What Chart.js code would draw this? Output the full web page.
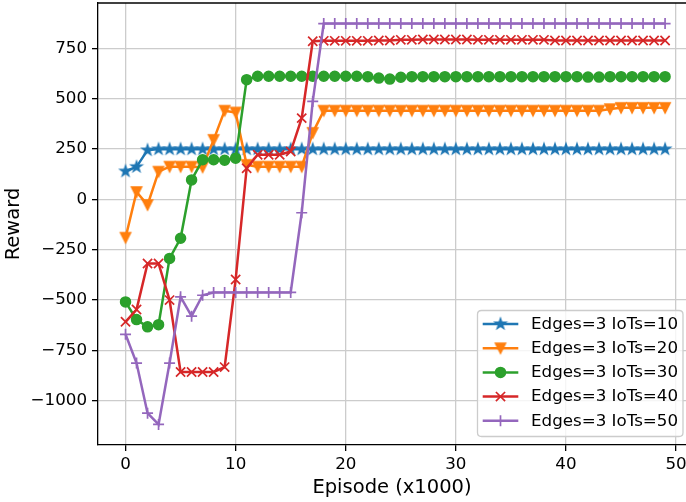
<!DOCTYPE html>
<html>
<head>
<meta charset="utf-8">
<script src="https://cdn.jsdelivr.net/npm/chart.js@4/dist/chart.umd.min.js"></script>
<style>
html,body{margin:0;padding:0;background:#fff;}
#wrap{width:686px;height:502px;position:relative;}
</style>
</head>
<body>
<div id="wrap"><canvas id="c" width="686" height="502"></canvas></div>
<script>
const episodes = [0,1,2,3,4,5,6,7,8,9,10,11,12,13,14,15,16,17,18,19,20,21,22,23,24,25,26,27,28,29,30,31,32,33,34,35,36,37,38,39,40,41,42,43,44,45,46,47,48,49];
const xTicks = [0,10,20,30,40,50];
const yTicks = [-1000,-750,-500,-250,0,250,500,750];
const labels = ['Edges=3 IoTs=10','Edges=3 IoTs=20','Edges=3 IoTs=30','Edges=3 IoTs=40','Edges=3 IoTs=50'];

const iot10 = [
  140,162,245,250,250,250,250,250,250,250,
  250,250,250,250,250,250,250,250,250,250,
  250,250,250,250,250,250,250,250,250,250,
  250,250,250,250,250,250,250,250,250,250,
  250,250,250,250,250,250,250,250,250,250];
const iot20 = [
  -190,37,-27,138,163,163,163,160,296,441,
  432,172,163,163,163,163,163,331,441,441,
  441,441,441,441,441,441,441,441,441,441,
  441,441,441,441,441,441,441,441,441,441,
  441,441,441,441,449,455,455,455,455,455];
const iot30 = [
  -509,-597,-633,-622,-293,-193,97,197,197,195,
  205,595,612,612,612,612,612,612,612,612,
  612,612,610,603,598,607,610,610,610,610,
  610,610,610,610,610,610,610,610,610,610,
  610,610,608,608,610,610,610,610,610,610];
const iot40 = [
  -608,-547,-318,-318,-500,-857,-857,-857,-857,-833,
  -398,155,222,222,222,238,404,786,788,788,
  788,788,788,790,790,793,793,795,795,795,
  795,795,793,793,793,793,793,793,793,790,
  790,790,790,790,790,790,790,790,790,790];
const iot50 = [
  -670,-813,-1062,-1118,-813,-484,-580,-476,-462,-462,
  -462,-462,-462,-462,-462,-462,-66,487,874,874,
  874,874,874,874,874,874,874,874,874,874,
  874,874,874,874,874,874,874,874,874,874,
  874,874,874,874,874,874,874,874,874,874];

const seriesValues = [iot10, iot20, iot30, iot40, iot50];
const colors = ['#1f77b4','#ff7f0e','#2ca02c','#d62728','#9467bd'];
const FONT = '"DejaVu Sans", sans-serif';

function makeMarker(kind, color) {
  const c = document.createElement('canvas');
  c.width = 16; c.height = 16;
  const g = c.getContext('2d');
  g.translate(8, 8);
  g.beginPath();
  if (kind === 'star') {
    for (let k = 0; k < 10; k++) {
      const r = (k % 2 === 0) ? 5.3 : 2.05;
      const a = -Math.PI / 2 + k * Math.PI / 5;
      g.lineTo(r * Math.cos(a), r * Math.sin(a));
    }
  } else {
    g.moveTo(0, 5); g.lineTo(-5, -5); g.lineTo(5, -5);
  }
  g.closePath();
  g.fillStyle = color; g.fill();
  g.strokeStyle = color; g.lineWidth = 1.6; g.lineJoin = 'miter'; g.stroke();
  return c;
}

const markerStyles = [
  {pointStyle: makeMarker('star', colors[0]), radius: 5, borderWidth: 1.6},
  {pointStyle: makeMarker('tri', colors[1]), radius: 5, borderWidth: 1.6},
  {pointStyle: 'circle', radius: 5, borderWidth: 1.5},
  {pointStyle: 'crossRot', radius: 6.5, borderWidth: 1.7},
  {pointStyle: 'cross', radius: 5.5, borderWidth: 1.7}
];

const datasets = seriesValues.map((vals, i) => ({
  label: labels[i],
  data: episodes.map((e, k) => ({x: e, y: vals[k]})),
  borderColor: colors[i],
  backgroundColor: colors[i],
  borderWidth: 2.5,
  tension: 0,
  fill: false,
  pointStyle: markerStyles[i].pointStyle,
  pointRadius: markerStyles[i].radius,
  pointHoverRadius: markerStyles[i].radius,
  pointBorderWidth: markerStyles[i].borderWidth,
  pointBorderColor: colors[i],
  pointBackgroundColor: colors[i],
  order: 4 - i
}));

function drawMarker(ctx, ms, color, x, y) {
  ctx.save();
  ctx.fillStyle = color; ctx.strokeStyle = color; ctx.lineWidth = ms.borderWidth;
  const st = ms.pointStyle;
  if (typeof st === 'object') {
    ctx.drawImage(st, x - st.width / 2, y - st.height / 2);
  } else if (st === 'circle') {
    ctx.beginPath(); ctx.arc(x, y, ms.radius, 0, Math.PI * 2); ctx.fill(); ctx.stroke();
  } else if (st === 'cross') {
    const r = ms.radius;
    ctx.beginPath(); ctx.moveTo(x - r, y); ctx.lineTo(x + r, y); ctx.moveTo(x, y - r); ctx.lineTo(x, y + r); ctx.stroke();
  } else if (st === 'crossRot') {
    const r = ms.radius * Math.SQRT1_2;
    ctx.beginPath(); ctx.moveTo(x - r, y - r); ctx.lineTo(x + r, y + r); ctx.moveTo(x - r, y + r); ctx.lineTo(x + r, y - r); ctx.stroke();
  }
  ctx.restore();
}

const decorPlugin = {
  id: 'decor',
  afterDatasetsDraw(chart) {
    const ctx = chart.ctx;
    const a = chart.chartArea;
    ctx.save();
    ctx.strokeStyle = '#000'; ctx.lineWidth = 1.3;
    ctx.beginPath(); ctx.moveTo(a.left - 0.65, a.top); ctx.lineTo(a.right, a.top); ctx.stroke();
    ctx.restore();
    const bx = 477.5, by = 310.5, bw = 205.5, bh = 126, rad = 4;
    ctx.save();
    ctx.beginPath();
    ctx.moveTo(bx + rad, by);
    ctx.lineTo(bx + bw - rad, by); ctx.quadraticCurveTo(bx + bw, by, bx + bw, by + rad);
    ctx.lineTo(bx + bw, by + bh - rad); ctx.quadraticCurveTo(bx + bw, by + bh, bx + bw - rad, by + bh);
    ctx.lineTo(bx + rad, by + bh); ctx.quadraticCurveTo(bx, by + bh, bx, by + bh - rad);
    ctx.lineTo(bx, by + rad); ctx.quadraticCurveTo(bx, by, bx + rad, by);
    ctx.closePath();
    ctx.fillStyle = 'rgba(255,255,255,0.8)'; ctx.fill();
    ctx.strokeStyle = '#cccccc'; ctx.lineWidth = 1.3; ctx.stroke();
    ctx.font = '16.7px ' + FONT;
    ctx.textBaseline = 'middle'; ctx.textAlign = 'left';
    chart.data.datasets.forEach((ds, i) => {
      const yy = 324 + i * 24.2;
      ctx.strokeStyle = ds.borderColor; ctx.lineWidth = 2.5;
      ctx.beginPath(); ctx.moveTo(482.7, yy); ctx.lineTo(518.3, yy); ctx.stroke();
      drawMarker(ctx, markerStyles[i], ds.borderColor, 500.5, yy);
      ctx.fillStyle = '#000';
      ctx.fillText(ds.label, 531, yy + 0.5);
    });
    ctx.restore();
  }
};

const minusFmt = v => String(v).replace('-', '\u2212');

new Chart(document.getElementById('c'), {
  type: 'line',
  data: { datasets },
  options: {
    responsive: false,
    animation: false,
    events: [],
    layout: { autoPadding: false, padding: { top: 3, right: 0, left: 0, bottom: 0 } },
    plugins: { legend: { display: false }, tooltip: { enabled: false } },
    scales: {
      x: {
        type: 'linear',
        min: -2.5, max: 50.9,
        afterBuildTicks: s => { s.ticks = xTicks.map(v => ({value: v})); },
        afterFit: s => { s.height = 57; s.paddingLeft = 0; s.paddingRight = 0; s.paddingTop = 0; s.paddingBottom = 0; },
        grid: { color: '#cccccc', lineWidth: 1.3, drawTicks: true, tickLength: 6, tickColor: '#000', tickWidth: 1.3 },
        border: { color: '#000', width: 1.3 },
        ticks: { color: '#000', font: { family: FONT, size: 16.7 }, padding: 4, maxRotation: 0, autoSkip: false, callback: minusFmt },
        title: { display: true, text: 'Episode (x1000)', color: '#000', font: { family: FONT, size: 19.5 }, padding: { top: 0, bottom: 2 } }
      },
      y: {
        type: 'linear',
        min: -1220, max: 976,
        afterBuildTicks: s => { s.ticks = yTicks.map(v => ({value: v})); },
        afterFit: s => { s.width = 98; s.paddingLeft = 0; s.paddingRight = 0; s.paddingTop = 0; s.paddingBottom = 0; },
        grid: { color: '#cccccc', lineWidth: 1.3, drawTicks: true, tickLength: 6, tickColor: '#000', tickWidth: 1.3 },
        border: { color: '#000', width: 1.3 },
        ticks: { color: '#000', font: { family: FONT, size: 16.7 }, padding: 5, autoSkip: false, callback: minusFmt },
        title: { display: true, text: 'Reward', color: '#000', font: { family: FONT, size: 19.5 }, padding: { top: 2.3, bottom: 0 } }
      }
    }
  },
  plugins: [decorPlugin]
});
</script>
</body>
</html>
